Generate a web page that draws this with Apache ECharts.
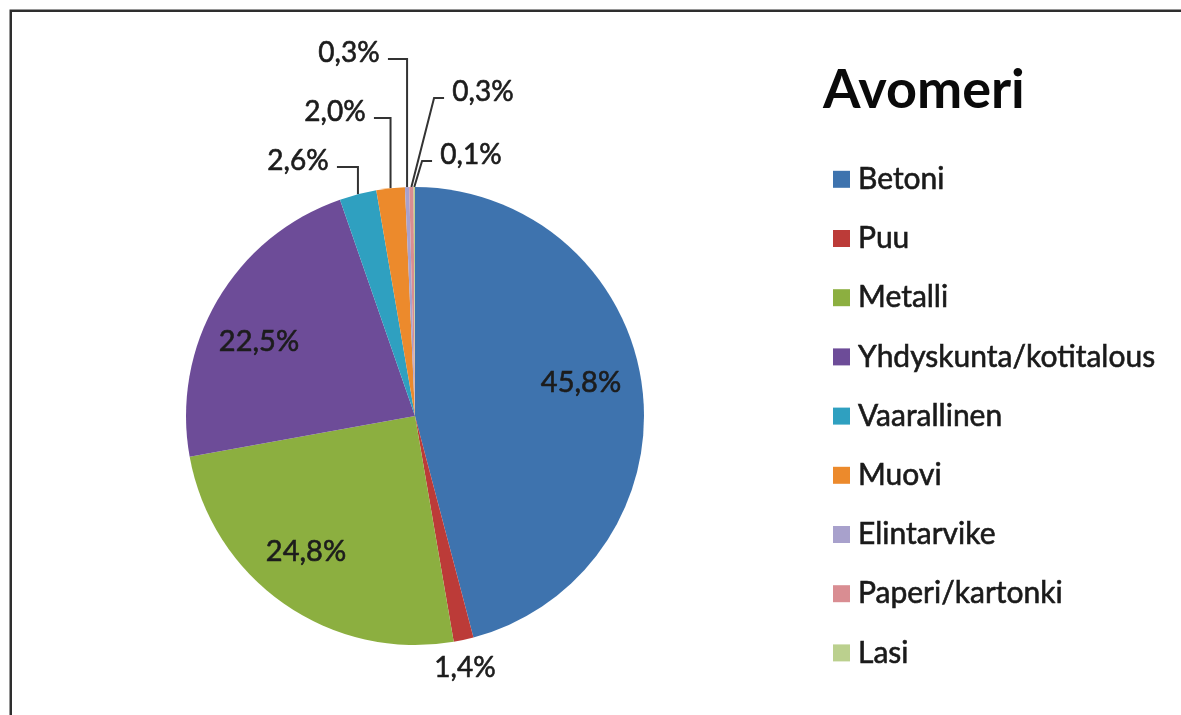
<!DOCTYPE html>
<html>
<head>
<meta charset="utf-8">
<title>Avomeri</title>
<script src="https://cdn.jsdelivr.net/npm/echarts@6/dist/echarts.min.js"></script>
<style>
  html, body { margin: 0; padding: 0; background: #ffffff; }
  #chart { width: 1181px; height: 715px; }
</style>
</head>
<body>
<div id="chart"></div>
<script>
// Waste composition, open sea (% of total)
const categories = ['Betoni', 'Puu', 'Metalli', 'Yhdyskunta/kotitalous', 'Vaarallinen', 'Muovi', 'Elintarvike', 'Paperi/kartonki', 'Lasi'];
const shares = [45.8, 1.4, 24.8, 22.5, 2.6, 2.0, 0.3, 0.3, 0.1];
const sliceColors = ['#3E73AE', '#BC3B38', '#8CAF40', '#6D4C98', '#2FA0C0', '#EC8A2C', '#A8A1CC', '#D98D92', '#BBD08E'];
const chartTitle = 'Avomeri';

// Pie geometry
const CX = 415, CY = 416, R = 229;

// Where each value label sits; callouts get an elbow leader back to their slice
const labelSpots = [
  { at: [581, 383], big: true },
  { at: [465, 668] },
  { at: [306, 552], big: true },
  { at: [259, 342], big: true },
  { at: [298, 161], leader: 'left' },
  { at: [335, 112], leader: 'left' },
  { at: [349, 53], leader: 'left' },
  { at: [483, 92], leader: 'right' },
  { at: [471, 155], leader: 'right' }
];

const total = shares.reduce((a, b) => a + b, 0);

// point on the outer rim at the middle of slice i (clockwise from 12 o'clock)
function rimPoint(i) {
  let before = 0;
  for (let k = 0; k < i; k++) before += shares[k];
  const mid = (before + shares[i] / 2) / total * 2 * Math.PI;
  return [CX + R * Math.sin(mid), CY - R * Math.cos(mid)];
}

const fmt = v => v.toFixed(1).replace('.', ',') + '%';

const pieData = categories.map((name, i) => ({
  name: name,
  value: shares[i],
  itemStyle: { color: sliceColors[i] },
  label: labelSpots[i].big ? { fontSize: 29 } : {},
  labelLine: { show: !!labelSpots[i].leader }
}));

const chart = echarts.init(document.getElementById('chart'), null, { renderer: 'canvas' });

chart.setOption({
  animation: false,
  backgroundColor: '#ffffff',
  title: {
    text: chartTitle,
    left: 823,
    top: 64,
    padding: 0,
    textStyle: { fontFamily: 'Lato', fontWeight: 'bold', fontSize: 54, lineHeight: 54, color: '#0a0a0a' }
  },
  legend: {
    orient: 'vertical',
    left: 833,
    top: 164,
    padding: 0,
    icon: 'rect',
    itemWidth: 17,
    itemHeight: 17,
    itemGap: 28.6,
    selectedMode: false,
    textStyle: {
      fontFamily: 'Lato', fontSize: 30, lineHeight: 30, color: '#1a1a1a',
      textBorderColor: '#1a1a1a', textBorderWidth: 0.6,
      padding: [0, 0, 0, 3]
    },
    data: categories
  },
  graphic: [{
    type: 'polyline',
    silent: true,
    shape: { points: [[10.75, 715], [10.75, 10.75], [1181, 10.75]] },
    style: { stroke: '#2e2e2e', lineWidth: 2.5, fill: null }
  }],
  series: [{
    type: 'pie',
    center: [CX, CY],
    radius: R,
    startAngle: 90,
    clockwise: true,
    avoidLabelOverlap: false,
    silent: true,
    itemStyle: { borderWidth: 0 },
    emphasis: { disabled: true },
    label: {
      show: true,
      position: 'outside',
      formatter: p => fmt(p.value),
      fontFamily: 'Lato',
      fontSize: 28,
      color: '#1c1c1c',
      textBorderColor: '#1c1c1c',
      textBorderWidth: 0.6
    },
    labelLine: {
      show: true,
      smooth: false,
      lineStyle: { color: '#333333', width: 2 }
    },
    labelLayout: function (params) {
      const spot = labelSpots[params.dataIndex];
      const x = spot.at[0], y = spot.at[1];
      const out = { x: x, y: y, align: 'center', verticalAlign: 'middle' };
      if (spot.leader) {
        const w = params.labelRect.width;
        const p0 = rimPoint(params.dataIndex);
        const ly = y + 6;
        if (spot.leader === 'left') {
          out.labelLinePoints = [p0, [p0[0], ly], [x + w / 2 + 8, ly]];
        } else {
          const lx = x - w / 2 - 8;
          out.labelLinePoints = [p0, [lx - 10, ly], [lx, ly]];
        }
      }
      return out;
    },
    data: pieData
  }]
});
</script>
</body>
</html>
